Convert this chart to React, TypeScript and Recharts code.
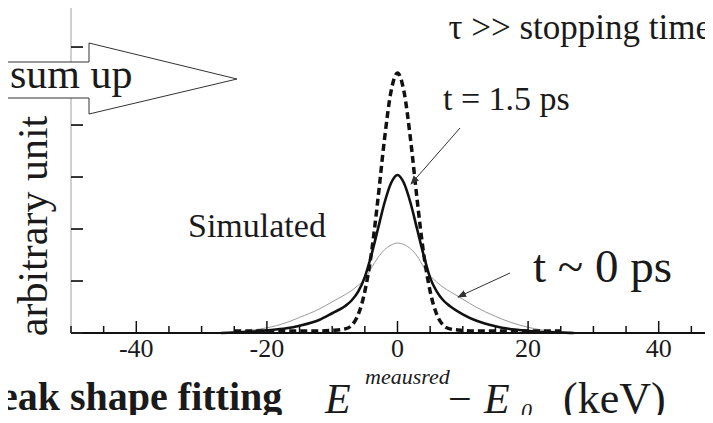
import { Line, LineChart, XAxis, YAxis } from 'recharts'

const energies = [-27, -25, -22, -20, -17, -15, -12, -10, -8, -7, -6, -5, -4, -3, -2, -1, 0, 1, 2, 3, 4, 5, 6, 7, 8, 10, 12, 15, 17, 20, 22, 25, 27]
const stoppingTime = [null, 0.04, 0.04, 0.04, 0.04, 0.04, 0.04, 0.05, 0.08, 0.15, 0.36, 0.8, 1.53, 2.57, 3.72, 4.64, 5.0, 4.64, 3.72, 2.57, 1.53, 0.8, 0.36, 0.15, 0.08, 0.05, 0.04, 0.04, 0.04, 0.04, 0.04, 0.04, null]
const t15ps = [0, 0.01, 0.03, 0.05, 0.09, 0.14, 0.25, 0.38, 0.52, 0.63, 0.8, 1.08, 1.5, 2.0, 2.5, 2.88, 3.04, 2.88, 2.5, 2.0, 1.5, 1.06, 0.8, 0.63, 0.52, 0.36, 0.24, 0.13, 0.08, 0.04, 0.02, 0.01, 0]
const t0ps = [0, 0.02, 0.06, 0.1, 0.2, 0.3, 0.46, 0.6, 0.74, 0.82, 0.92, 1.03, 1.25, 1.45, 1.6, 1.69, 1.73, 1.7, 1.62, 1.48, 1.27, 1.1, 0.98, 0.88, 0.8, 0.65, 0.5, 0.32, 0.22, 0.11, 0.06, 0.02, 0]

const xTicks = [-50, -45, -40, -35, -30, -25, -20, -15, -10, -5, 0, 5, 10, 15, 20, 25, 30, 35, 40, 45, 50]
const xLabels = [-40, -20, 0, 20, 40]
const yTicks = [0, 1, 2, 3, 4, 5, 5.5]
const yTop = 6.27

const data = energies.map((e, i) => ({ e, dashed: stoppingTime[i], bold: t15ps[i], thin: t0ps[i] }))

const ink = '#1a1a1a'

function XTick(props: any) {
  const { x, y, payload } = props
  const major = xLabels.includes(payload.value)
  return (
    <g>
      <line x1={x} x2={x} y1={y} y2={y - (major ? 12 : 7)} stroke="#111" strokeWidth={1.5} />
      {major && (
        <text x={x} y={y + 24} textAnchor="middle" fontSize={26} fill={ink}>
          {String(payload.value)}
        </text>
      )}
    </g>
  )
}

function YTick(props: any) {
  const { x, y } = props
  return <line x1={x} x2={x + 12} y1={y} y2={y} stroke="#222" strokeWidth={1.8} />
}

export default function App() {
  return (
    <div style={{ position: 'relative', width: 713, height: 423, margin: -8, overflow: 'hidden', fontFamily: '"Liberation Serif", serif', background: '#fff' }}>
      <LineChart width={730} height={423} data={data} margin={{ top: 7, right: 6, bottom: 60, left: 71 }}>
        <XAxis
          dataKey="e"
          type="number"
          domain={[-50, 50]}
          ticks={xTicks}
          interval={0}
          height={30}
          tickSize={0}
          tickMargin={0}
          tickLine={false}
          tick={<XTick />}
          axisLine={{ stroke: '#111', strokeWidth: 2 }}
        />
        <YAxis
          type="number"
          domain={[0, yTop]}
          ticks={yTicks}
          interval={0}
          mirror
          tickSize={0}
          tickMargin={0}
          tickLine={false}
          tick={<YTick />}
          axisLine={{ stroke: '#d0d0d0', strokeWidth: 2 }}
        />
        <Line type="monotone" dataKey="thin" stroke="#999" strokeWidth={1} dot={false} isAnimationActive={false} />
        <Line type="monotone" dataKey="bold" stroke="#111" strokeWidth={2.6} dot={false} isAnimationActive={false} />
        <Line type="monotone" dataKey="dashed" stroke="#111" strokeWidth={3.5} strokeDasharray="7 4" dot={false} isAnimationActive={false} />
      </LineChart>
      <svg width={713} height={423} style={{ position: 'absolute', left: 0, top: 0, pointerEvents: 'none' }}>
        <defs>
          <marker id="head" viewBox="0 0 10 10" refX="9" refY="5" markerWidth="9" markerHeight="9" orient="auto">
            <path d="M0,1 L10,5 L0,9 z" fill="#333" />
          </marker>
        </defs>
        {/* frame top edge */}
        <rect x={70} y={6} width={650} height={2} fill="#bdbdbd" />
        <polygon points="-2,62 89,62 89,43 237,79 89,114 89,98 -2,98" fill="#fff" stroke="#333" strokeWidth={1} />
        <text x={10} y={88} fontSize={42} fill={ink}>sum up</text>
        <text x={711} y={39} fontSize={35} textAnchor="end" fill={ink}>τ &gt;&gt; stopping time</text>
        <text x={443} y={110} fontSize={34} fill={ink}>t = 1.5 ps</text>
        <line x1={460} y1={128} x2={411} y2={184} stroke="#333" strokeWidth={1} markerEnd="url(#head)" />
        <text x={188} y={237} fontSize={34} fill={ink}>Simulated</text>
        <text x={533} y={282} fontSize={47} fill={ink}>t ~ 0 ps</text>
        <line x1={510} y1={273} x2={458} y2={297} stroke="#333" strokeWidth={1} markerEnd="url(#head)" />
        <text transform="translate(47,226) rotate(-90)" textAnchor="middle" fontSize={42} fill={ink}>arbitrary unit</text>
        <text x={0} y={410} fontSize={40} fontWeight="bold" fill={ink}>eak shape fitting</text>
        <text x={325} y={413} fontSize={42} fontStyle="italic" fill={ink}>E</text>
        <text x={365} y={384} fontSize={22} fontStyle="italic" fill={ink}>meausred</text>
        <text x={448} y={413} fontSize={42} fill={ink}>−</text>
        <text x={484} y={413} fontSize={42} fontStyle="italic" fill={ink}>E</text>
        <text x={521} y={418} fontSize={22} fontStyle="italic" fill={ink}>0</text>
        <text x={563} y={413} fontSize={44} fill={ink}>(keV)</text>
      </svg>
    </div>
  )
}
